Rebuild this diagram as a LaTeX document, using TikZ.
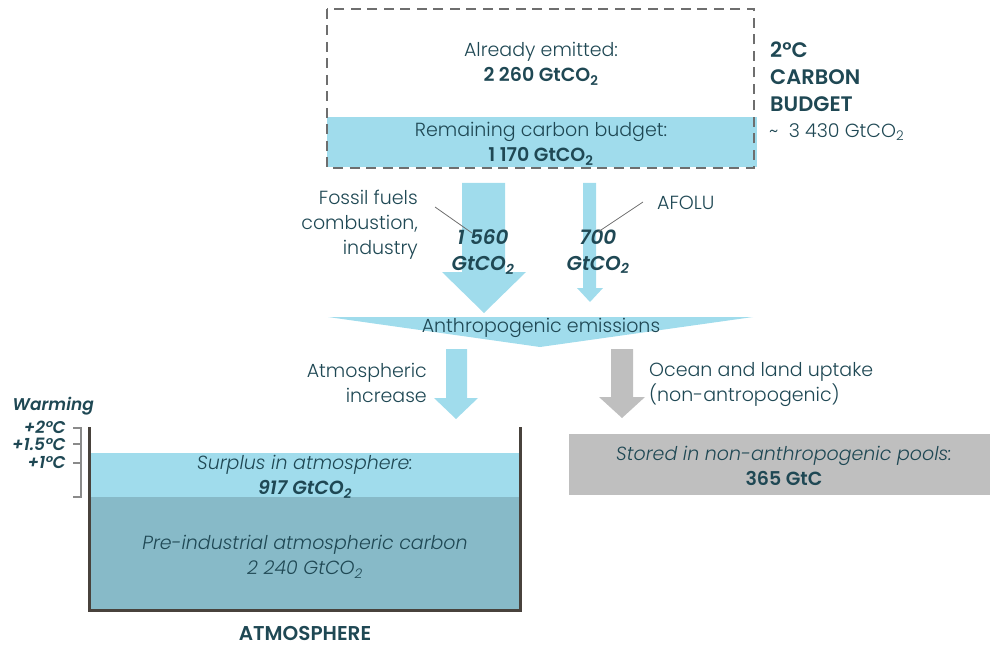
\documentclass[tikz,border=0pt]{standalone}
\usepackage{fontspec}
\setmainfont{Poppins Light}[BoldFont={Poppins SemiBold},ItalicFont={Poppins Light Italic},BoldItalicFont={Poppins SemiBold Italic}]
\usepackage{tikz}
\usetikzlibrary{positioning}

\definecolor{txt}{RGB}{31,72,84}
\definecolor{skyblue}{RGB}{160,220,236}
\definecolor{deepblue}{RGB}{135,186,200}
\definecolor{pool}{RGB}{191,191,191}
\definecolor{dashc}{RGB}{110,110,110}
\definecolor{wall}{RGB}{72,66,60}
\definecolor{brack}{RGB}{138,138,138}

\newcommand{\gtco}{GtCO\textsubscript{2}}

\begin{document}
\begin{tikzpicture}[x=1pt,y=-1pt,
        lbl/.style={text=txt,font=\fontsize{19}{25}\selectfont,inner sep=0pt,align=center},
        big/.style={text=txt,font=\fontsize{21}{27}\selectfont\bfseries,inner sep=0pt,align=left},
        val/.style={lbl,font=\fontsize{20}{26}\selectfont\bfseries\itshape},
        warm/.style={lbl,font=\fontsize{17}{20}\selectfont\bfseries\itshape,anchor=east},
        title/.style={text=txt,font=\fontsize{20}{22}\selectfont\bfseries,inner sep=0pt},
        lead/.style={draw=dashc,line width=0.8pt}]
    \useasboundingbox (0,0) rectangle (990,647);

    % budget box
    \fill[skyblue] (327,117) rectangle (757,167);
    \draw[dashc,line width=2.6pt,dash pattern=on 10pt off 6.5pt] (327,9) rectangle (754,168);
    \node[lbl] (emitted) at (541,64) {Already emitted:\\\textbf{2 260 \gtco}};
    \node[lbl] (remain) at (541,144) {Remaining carbon budget:\\\textbf{1 170 \gtco}};

    \node[big,anchor=north west] (budget) at (770,42) {2°C\\CARBON\\BUDGET};
    \node[lbl,anchor=west] (total) at (769,132) {\textasciitilde\ \ 3 430 \gtco};

    % fossil arrow
    \fill[skyblue] (462,183) -- (505,183) -- (505,272) -- (526,272) -- (484,313)
        -- (442,272) -- (462,272) -- cycle;
    % AFOLU arrow
    \fill[skyblue] (583,183) -- (596,183) -- (596,288) -- (603,288) -- (590,302)
        -- (577,288) -- (583,288) -- cycle;

    \node[lbl,align=right,anchor=east] (fossil) at (418,225) {Fossil fuels\\combustion,\\industry};
    \node[val] (ffval) at (483,252) {1 560\\\gtco};
    \node[lbl,anchor=west] (afolu) at (657,203) {AFOLU};
    \node[val] (afval) at (598,252) {700\\\gtco};
    \draw[lead] (435,207) -- (472,233);
    \draw[lead] (643,202) -- (598,232);

    % emissions wedge
    \fill[skyblue] (328,317) -- (753,317) -- (540,347) -- cycle;
    \node[lbl] (anthro) at (541,328) {Anthropogenic emissions};

    % to atmosphere
    \fill[skyblue] (446,349) -- (467,349) -- (467,398) -- (478,398) -- (456,419)
        -- (434,398) -- (446,398) -- cycle;
    \node[lbl,align=right,anchor=east] (increase) at (427,383) {Atmospheric\\increase};

    % to pools
    \fill[pool] (611,349) -- (633,349) -- (633,397) -- (645,397) -- (622,418)
        -- (599,397) -- (611,397) -- cycle;
    \node[lbl,align=left,anchor=west] (uptake) at (649,385) {Ocean and land uptake\\(non-antropogenic)};

    \fill[pool] (569,434) rectangle (990,495);
    \node[lbl] (stored) at (784,466) {\textit{Stored in non-anthropogenic pools:}\\\textbf{365 GtC}};

    % atmosphere tank
    \fill[skyblue] (89,453) rectangle (520,497);
    \fill[deepblue] (89,497) rectangle (520,610);
    \draw[wall,line width=3pt] (89,427) -- (89,610) -- (520,610) -- (520,427);
    \node[lbl] (surplus) at (305,477) {\textit{Surplus in atmosphere:}\\\textbf{\itshape 917 \gtco}};
    \node[lbl] (preind) at (305,557) {\textit{Pre-industrial atmospheric carbon}\\\textit{2 240 \gtco}};
    \node[title,anchor=base] (atmos) at (305,640) {ATMOSPHERE};

    % warming scale
    \node[warm] (warming) at (94,406) {Warming};
    \node[warm] (two) at (66,427) {+2°C};
    \node[warm] (onefive) at (66,444) {+1.5°C};
    \node[warm] (one) at (66,463) {+1°C};
    \draw[brack,line width=2pt] (73,428) -- (81,428) -- (81,497) -- (73,497);
    \draw[brack,line width=2pt] (73,444) -- (81,444);
    \draw[brack,line width=2pt] (73,463) -- (81,463);
\end{tikzpicture}
\end{document}
